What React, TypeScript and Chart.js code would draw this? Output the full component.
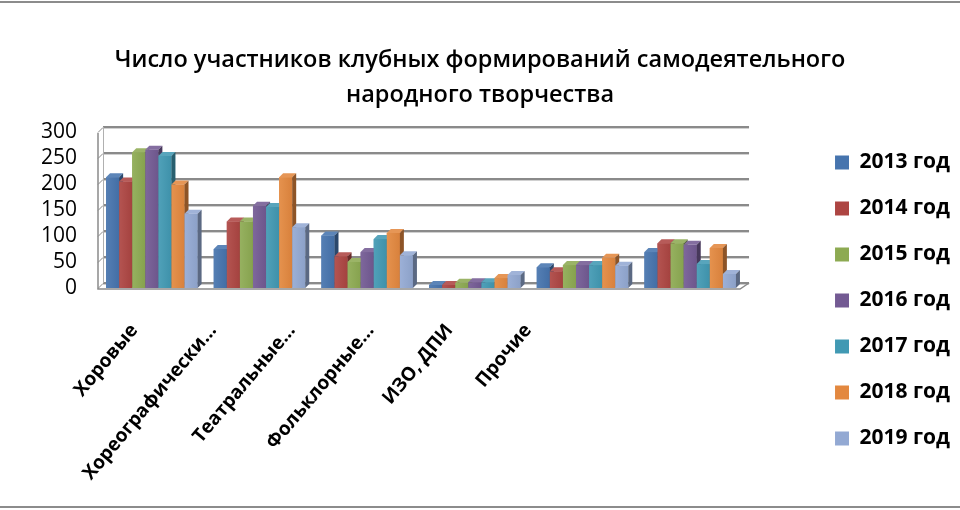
import { useEffect, useRef } from 'react'
import { Chart, ChartConfiguration, Plugin, registerables } from 'chart.js'

Chart.register(...registerables)

const categories = ['Хоровые', 'Хореографически…', 'Театральные…', 'Фольклорные…', 'ИЗО, ДПИ', 'Прочие']
const years = ['2013 год', '2014 год', '2015 год', '2016 год', '2017 год', '2018 год', '2019 год']
const v2013 = [213, 75, 101, 6, 40, 69]
const v2014 = [205, 128, 61, 6, 32, 86]
const v2015 = [261, 128, 50, 10, 44, 86]
const v2016 = [266, 158, 69, 11, 44, 83]
const v2017 = [254, 156, 94, 11, 44, 46]
const v2018 = [199, 213, 106, 19, 58, 77]
const v2019 = [143, 117, 63, 25, 43, 27]
const seriesValues = [v2013, v2014, v2015, v2016, v2017, v2018, v2019]
const yTickValues = [0, 50, 100, 150, 200, 250, 300]

const colors = ['#4674AE', '#AD4542', '#8DAA52', '#735A93', '#4199B3', '#E3883F', '#93A9D3']

const WALL = 5 // depth of back wall
const BAR_DEPTH = 4

function shade(hex: string, f: number) {
  const n = parseInt(hex.slice(1), 16)
  const ch = (v: number) => Math.max(0, Math.min(255, Math.round(f > 1 ? v + (255 - v) * (f - 1) : v * f)))
  const r = ch((n >> 16) & 255), g = ch((n >> 8) & 255), b = ch(n & 255)
  return `rgb(${r},${g},${b})`
}

// frame lines, back wall, left wall and floor
const wallsPlugin: Plugin = {
  id: 'walls',
  beforeDraw(chart) {
    const { ctx, width, height } = chart
    ctx.save()
    ctx.fillStyle = '#fff'
    ctx.fillRect(0, 0, width, height)
    ctx.fillStyle = '#8c8c8c'
    ctx.fillRect(0, 1, width, 2)
    ctx.fillRect(0, height - 4, width, 2)
    ctx.restore()
  },
  beforeDatasetsDraw(chart) {
    const { ctx, chartArea } = chart
    const y = chart.scales.y
    const { left, right, bottom } = chartArea
    ctx.save()
    ctx.lineWidth = 1
    yTickValues.forEach((v) => {
      const py = Math.round(y.getPixelForValue(v)) - WALL
      ctx.strokeStyle = '#d0d0d0'
      ctx.beginPath()
      ctx.moveTo(left + WALL, py + 1.5)
      ctx.lineTo(right + WALL, py + 1.5)
      ctx.stroke()
      ctx.strokeStyle = '#8a8a8a'
      ctx.lineWidth = 2
      ctx.beginPath()
      ctx.moveTo(left + WALL, py)
      ctx.lineTo(right + WALL, py)
      ctx.stroke()
      ctx.lineWidth = 1
      ctx.beginPath()
      ctx.moveTo(left, py + WALL + 0.5)
      ctx.lineTo(left + WALL, py + 0.5)
      ctx.stroke()
    })
    const top = y.getPixelForValue(300)
    ctx.strokeStyle = '#8a8a8a'
    ctx.lineWidth = 1.5
    ctx.beginPath()
    ctx.moveTo(left, top + 1)
    ctx.lineTo(left, bottom + 1)
    ctx.lineTo(right - 4, bottom + 1)
    ctx.lineTo(right + WALL, bottom - WALL)
    ctx.stroke()
    ctx.strokeStyle = '#b0b0b0'
    ctx.lineWidth = 1
    ctx.beginPath()
    ctx.moveTo(left + WALL + 0.5, top - WALL)
    ctx.lineTo(left + WALL + 0.5, bottom - WALL)
    ctx.stroke()
    ctx.restore()
  },
}

// 3D columns drawn over the flat bars, left to right
const barsPlugin: Plugin = {
  id: 'bars3d',
  afterDatasetsDraw(chart) {
    const { ctx } = chart
    ctx.save()
    categories.forEach((_, i) => {
      seriesValues.forEach((_, d) => {
        const el: any = chart.getDatasetMeta(d).data[i]
        if (!el) return
        const { x, y, base, width } = el.getProps(['x', 'y', 'base', 'width'], true)
        const l = x - width / 2
        const r = x + width / 2
        const c = colors[d]
        const g = ctx.createLinearGradient(l, 0, r, 0)
        g.addColorStop(0, shade(c, 1.08))
        g.addColorStop(1, shade(c, 0.95))
        ctx.fillStyle = g
        ctx.fillRect(l, y, r - l, base - y)
        ctx.fillStyle = shade(c, 1.12)
        ctx.beginPath()
        ctx.moveTo(l, y)
        ctx.lineTo(l + BAR_DEPTH, y - BAR_DEPTH)
        ctx.lineTo(r + BAR_DEPTH, y - BAR_DEPTH)
        ctx.lineTo(r, y)
        ctx.closePath()
        ctx.fill()
        ctx.fillStyle = shade(c, 0.62)
        ctx.beginPath()
        ctx.moveTo(r, y)
        ctx.lineTo(r + BAR_DEPTH, y - BAR_DEPTH)
        ctx.lineTo(r + BAR_DEPTH, base - BAR_DEPTH)
        ctx.lineTo(r, base)
        ctx.closePath()
        ctx.fill()
      })
    })
    ctx.restore()
  },
}

// slanted category labels under the floor
const xLabelsPlugin: Plugin = {
  id: 'xLabels',
  afterDraw(chart) {
    const { ctx, chartArea } = chart
    const xs = chart.scales.x
    ctx.save()
    ctx.font = 'bold 19px "Open Sans"'
    ctx.fillStyle = '#000'
    ctx.textAlign = 'right'
    ctx.textBaseline = 'middle'
    categories.forEach((label, i) => {
      const px = xs.getPixelForTick(i)
      const ax = chartArea.left - 3 + (px - chartArea.left) * 0.7315
      const ay = chartArea.bottom + 39
      ctx.save()
      ctx.translate(ax, ay)
      ctx.rotate((-50 * Math.PI) / 180)
      ctx.fillText(label, 0, 0)
      ctx.restore()
    })
    ctx.restore()
  },
}

export default function App() {
  const chartRef = useRef<HTMLCanvasElement>(null)
  const chartInstance = useRef<Chart | null>(null)

  useEffect(() => {
    if (!chartRef.current) return
    if (chartInstance.current) chartInstance.current.destroy()

    const config: ChartConfiguration = {
      type: 'bar',
      data: {
        labels: categories,
        datasets: years.map((year, d) => ({
          label: year,
          data: seriesValues[d],
          backgroundColor: colors[d],
          borderWidth: 0,
          categoryPercentage: 0.85,
          barPercentage: 1,
        })),
      },
      options: {
        responsive: true,
        maintainAspectRatio: false,
        animation: false,
        layout: { padding: { left: 0, right: 0, top: 0, bottom: 36 } },
        scales: {
          x: {
            display: true,
            grid: { display: false, drawTicks: false },
            border: { display: false },
            ticks: { display: false },
            afterFit: (s) => {
              s.height = 186
            },
          },
          y: {
            min: 0,
            max: 300,
            grid: { display: false, drawTicks: false },
            border: { display: false },
            ticks: {
              stepSize: 50,
              autoSkip: false,
              padding: 21,
              color: '#000',
              font: { family: '"Open Sans"', size: 21 },
            },
            afterFit: (s) => {
              s.width = 98
            },
          },
          y2: {
            type: 'linear',
            position: 'right',
            display: true,
            grid: { display: false, drawTicks: false },
            border: { display: false },
            ticks: { display: false },
            afterFit: (s) => {
              s.width = 66
            },
          },
        },
        plugins: {
          title: {
            display: true,
            text: ['Число участников клубных формирований самодеятельного', 'народного творчества'],
            color: '#000',
            font: { family: '"Open Sans"', size: 23.5, weight: 600, lineHeight: '35px' },
            padding: { top: 43, bottom: 19 },
          },
          legend: {
            display: true,
            position: 'right',
            align: 'end',
            labels: {
              boxWidth: 14,
              boxHeight: 14,
              padding: 25,
              color: '#000',
              font: { family: '"Open Sans"', size: 21, weight: 'bold' },
            },
          },
          tooltip: { enabled: false },
        },
      },
      plugins: [wallsPlugin, barsPlugin, xLabelsPlugin],
    }

    chartInstance.current = new Chart(chartRef.current, config)

    return () => {
      if (chartInstance.current) {
        chartInstance.current.destroy()
        chartInstance.current = null
      }
    }
  }, [])

  return (
    <div style={{ position: 'fixed', left: 0, top: 0, width: 960, height: 510, background: '#fff' }}>
      <canvas ref={chartRef}></canvas>
    </div>
  )
}
